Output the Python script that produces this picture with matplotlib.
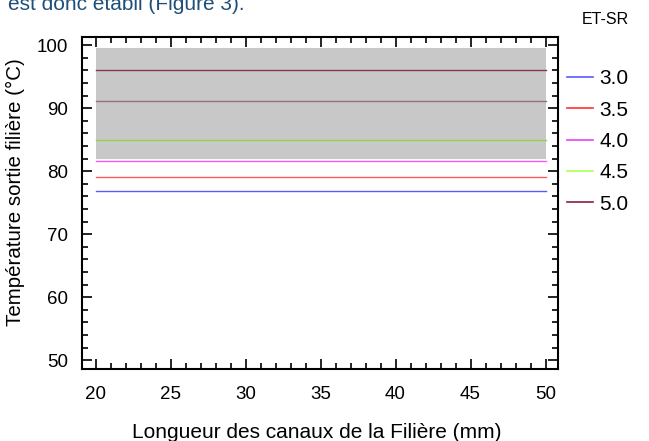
import matplotlib
matplotlib.use("Agg")
import matplotlib.pyplot as plt
from matplotlib.ticker import MultipleLocator
from matplotlib.lines import Line2D

plt.rcParams['font.family'] = ['Liberation Sans', 'DejaVu Sans']

# Data
x_range = [20, 50]
band_low = 81.9
band_high = 99.6
series_labels = ["3.0", "3.5", "4.0", "4.5", "5.0"]
series_values = [76.9, 79.1, 81.6, 84.9, 96.0]
extra_line_value = 91.2
series_colors = ["#5a5aff", "#ff5a5a", "#ff55ff", "#8fd64a", "#8a3558"]
legend_colors = ["#5a5aff", "#ff3030", "#ee44ee", "#aaff55", "#8a1f48"]
extra_line_color = "#9a6d82"

W, H = 649, 441
fig = plt.figure(figsize=(6.49, 4.41), dpi=100)
ax = fig.add_axes([82/W, 1-369/H, (557.5-82)/W, (369-37)/H])

ax.fill_between(x_range, [band_low]*2, [band_high]*2, color="#c8c8c8", lw=0, zorder=1)
for v, c in zip(series_values, series_colors):
    ax.plot(x_range, [v, v], color=c, lw=1.0, zorder=2)
ax.plot(x_range, [extra_line_value]*2, color=extra_line_color, lw=1.0, zorder=2)

ax.set_xlim(19.1, 50.8)
ax.set_ylim(48.6, 101.3)
ax.xaxis.set_major_locator(MultipleLocator(5))
ax.xaxis.set_minor_locator(MultipleLocator(1))
ax.yaxis.set_major_locator(MultipleLocator(10))
ax.yaxis.set_minor_locator(MultipleLocator(2))
ax.tick_params(which='both', direction='in', top=True, right=True, labelsize=13.5, width=1.2)
ax.tick_params(axis='x', which='major', length=7, pad=12)
ax.tick_params(axis='y', which='major', length=7, pad=10)
ax.tick_params(which='minor', length=4)
for s in ax.spines.values():
    s.set_linewidth(1.5)

ax.set_xlabel("Longueur des canaux de la Filière (mm)", fontsize=15, va='center')
ax.xaxis.set_label_coords((317-82)/475.5, (369-433)/332)
ax.set_ylabel("Température sortie filière (°C)", fontsize=14.8, va='center')
ax.yaxis.set_label_coords((15-82)/475.5, (369-192)/332)

# Legend (drawn in figure coordinates)
ys = [77, 108, 139.5, 171, 202]
for y, c, lab in zip(ys, legend_colors, series_labels):
    fig.add_artist(Line2D([567/W, 593/W], [1-y/H, 1-y/H], color=c, lw=1.2,
                          transform=fig.transFigure))
    fig.text(599/W, 1-y/H, lab, ha='left', va='center_baseline', fontsize=15)
fig.text(605/W, 1-20/H, "ET-SR", ha='center', va='center', fontsize=11.5)

fig.text(8/W, 1-10.5/H, "est donc établi (Figure 3).", ha='left', va='baseline',
         fontsize=15, color="#1f4e79")

fig.savefig("out.png", dpi=100)
